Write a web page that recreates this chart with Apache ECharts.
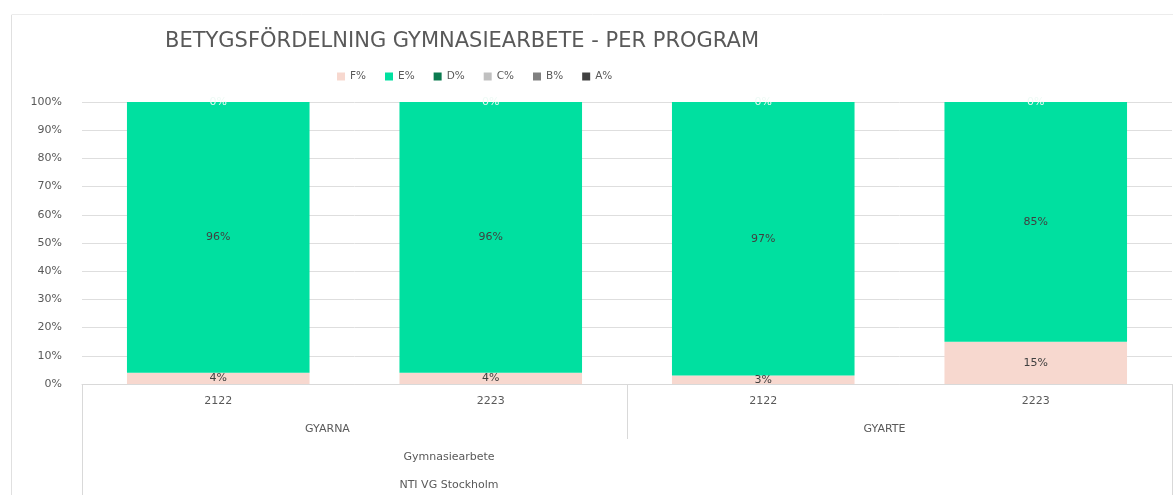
<!DOCTYPE html>
<html><head><meta charset="utf-8">
<script src="https://cdn.jsdelivr.net/npm/echarts@6/dist/echarts.min.js"></script>
<style>html,body{margin:0;padding:0;background:#fff}#c{width:1173px;height:495px}</style>
</head><body><div id="c"></div>
<script>
const title = 'BETYGSFÖRDELNING GYMNASIEARBETE - PER PROGRAM';
const years = ['2122', '2223', '2122', '2223'];
const programs = ['GYARNA', 'GYARTE'];
const course = ['Gymnasiearbete'];
const school = ['NTI VG Stockholm'];
const seriesNames = ['F%', 'E%', 'D%', 'C%', 'B%', 'A%'];
const seriesColors = ['#f7d8cf', '#00e0a0', '#0b7a4f', '#c0c0c0', '#808080', '#404040'];
const F = [4, 4, 3, 15];
const E = [96, 96, 97, 85];
const D = [0, 0, 0, 0];
const C = [0, 0, 0, 0];
const B = [0, 0, 0, 0];
const A = [0, 0, 0, 0];
const yTicks = [0, 10, 20, 30, 40, 50, 60, 70, 80, 90, 100];

const values = [F, E, D, C, B, A];
const font = 'DejaVu Sans';
const chart = echarts.init(document.getElementById('c'), null, {renderer: 'canvas'});

const series = seriesNames.map((n, i) => ({
  name: n, type: 'bar', stack: 'total', xAxisIndex: 0,
  barCategoryGap: '33%',
  itemStyle: {color: seriesColors[i]},
  data: values[i],
  label: {
    show: i <= 2, position: 'inside',
    formatter: p => p.value + '%',
    color: i === 2 ? '#eefaf5' : '#404040',
    fontFamily: font, fontSize: 11
  },
  emphasis: {disabled: true}
}));

const baseCat = {type: 'category', position: 'bottom', axisLine: {show: false}, splitLine: {show: false}};

chart.setOption({
  animation: false,
  title: {text: title, left: 160, top: 26, textStyle: {fontFamily: font, fontWeight: 'normal', fontSize: 21, color: '#595959'}},
  legend: {
    data: seriesNames, left: 332, top: 66, itemWidth: 8, itemHeight: 8, itemGap: 19,
    icon: 'rect', textStyle: {fontFamily: font, fontSize: 10.5, color: '#595959'}
  },
  grid: {left: 82, right: 1, top: 102, bottom: 111, containLabel: false},
  yAxis: {
    type: 'value', min: 0, max: 100, interval: 10,
    axisLabel: {formatter: v => yTicks.includes(v) ? v + '%' : '', margin: 20, fontFamily: font, fontSize: 11, color: '#595959'},
    axisLine: {show: false}, axisTick: {show: false},
    splitLine: {lineStyle: {color: '#dedede'}}
  },
  xAxis: [
    Object.assign({}, baseCat, {
      data: years,
      axisLine: {show: true, lineStyle: {color: '#d9d9d9'}},
      axisTick: {show: false},
      axisLabel: {margin: 12, fontFamily: font, fontSize: 11, color: '#595959'}
    }),
    Object.assign({}, baseCat, {
      data: programs,
      axisTick: {show: true, length: 55, lineStyle: {color: '#d9d9d9'}},
      axisLabel: {
        margin: 40, fontFamily: font, fontSize: 11, color: '#595959',
        formatter: (v, i) => '{p' + i + '|' + v + '}',
        rich: {p0: {padding: [0, 54, 0, 0]}, p1: {padding: [0, 30, 0, 0]}}
      }
    }),
    Object.assign({}, baseCat, {
      data: course,
      axisTick: {show: true, length: 115, lineStyle: {color: '#d9d9d9'}},
      axisLabel: {
        margin: 68, fontFamily: font, fontSize: 11, color: '#595959',
        formatter: v => '{q|' + v + '}', rich: {q: {padding: [0, 356, 0, 0]}}
      }
    }),
    Object.assign({}, baseCat, {
      data: school,
      axisTick: {show: false},
      axisLabel: {
        margin: 96, fontFamily: font, fontSize: 11, color: '#595959',
        formatter: v => '{q|' + v + '}', rich: {q: {padding: [0, 356, 0, 0]}}
      }
    })
  ],
  series: series,
  graphic: [
    {type: 'line', shape: {x1: 11.5, y1: 15, x2: 11.5, y2: 495}, style: {stroke: '#e0e0e0', lineWidth: 1}},
    {type: 'line', shape: {x1: 11.5, y1: 14.5, x2: 1173, y2: 14.5}, style: {stroke: '#ececec', lineWidth: 1}}
  ]
});
</script></body></html>
